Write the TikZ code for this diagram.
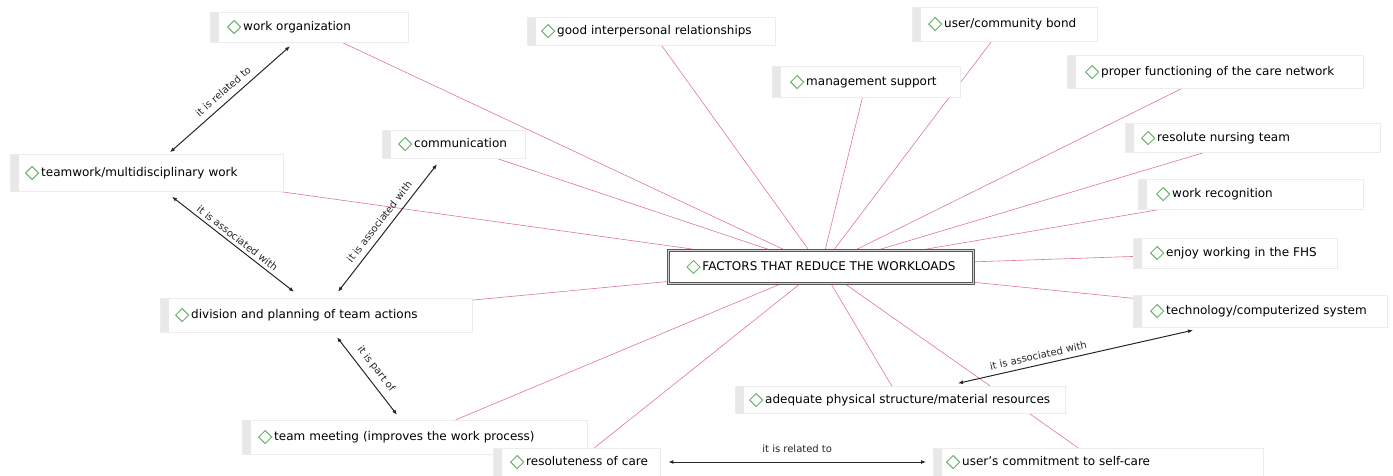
\documentclass[tikz,border=0pt]{standalone}
\usepackage{fontspec}
\setmainfont{DejaVu Sans}
\usetikzlibrary{arrows.meta,backgrounds}

\definecolor{diagreen}{RGB}{105,178,105}
\definecolor{linkred}{RGB}{224,120,138}
\newcommand{\dia}{\tikz[baseline=-3.8pt]\draw[diagreen,line width=1pt] (0pt,6.5pt)--(6.5pt,0pt)--(0pt,-6.5pt)--(-6.5pt,0pt)--cycle;}

\begin{document}
\begin{tikzpicture}[x=1pt,y=-1pt,
    topic/.style={draw=gray!15, fill=white, anchor=west, inner xsep=0pt, inner ysep=0pt,
      align=left, minimum height=30pt, font=\fontsize{12}{14}\selectfont,
      path picture={\fill[gray!18] (path picture bounding box.north west) rectangle
        ([xshift=9pt]path picture bounding box.south west);}},
    factorlink/.style={linkred, line width=0.6pt},
    relation/.style={{Latex[length=5pt,width=4pt]}-{Latex[length=5pt,width=4pt]}, line width=1pt, black!85},
    rellabel/.style={font=\fontsize{10}{11}\selectfont, sloped, above, inner sep=5pt}]
  \useasboundingbox (0,0) rectangle (1393,475);

  % left side
  \node[topic, text width=198pt] (workorg) at (210,27) {\hspace*{17pt}\dia\,work organization};
  \node[topic, text width=273pt, minimum height=37pt] (teamwork) at (10,173) {\hspace*{15pt}\dia\,teamwork/multidisciplinary work};
  \node[topic, text width=143pt, minimum height=28pt] (communication) at (382,144) {\hspace*{16pt}\dia\,communication};
  \node[topic, text width=312pt, minimum height=34pt] (division) at (160,315) {\hspace*{15pt}\dia\,division and planning of team actions};
  \node[topic, text width=345pt, minimum height=34pt] (meeting) at (242,437) {\hspace*{16pt}\dia\,team meeting (improves the work process)};
  % top and right side
  \node[topic, text width=248pt, minimum height=28pt] (interpersonal) at (527,31) {\hspace*{14pt}\dia\,good interpersonal relationships};
  \node[topic, text width=188pt, minimum height=31pt] (management) at (772,82) {\hspace*{18pt}\dia\,management support};
  \node[topic, text width=185pt, minimum height=34pt] (community) at (912,24) {\hspace*{16pt}\dia\,user/community bond};
  \node[topic, text width=296pt, minimum height=33pt] (network) at (1067,72) {\hspace*{18pt}\dia\,proper functioning of the care network};
  \node[topic, text width=255pt, minimum height=29pt] (nursing) at (1125,138) {\hspace*{16pt}\dia\,resolute nursing team};
  \node[topic, text width=225pt, minimum height=30pt] (recognition) at (1138,194) {\hspace*{18pt}\dia\,work recognition};
  \node[topic, text width=204pt, minimum height=30pt] (enjoy) at (1133,253) {\hspace*{17pt}\dia\,enjoy working in the FHS};
  \node[topic, text width=254pt, minimum height=32pt] (technology) at (1133,311) {\hspace*{17pt}\dia\,technology/computerized system};
  % bottom
  \node[topic, text width=330pt, minimum height=27pt] (physical) at (735,400) {\hspace*{14pt}\dia\,adequate physical structure/material resources};
  \node[topic, text width=167pt, minimum height=28pt] (resolute) at (493,462) {\hspace*{17pt}\dia\,resoluteness of care};
  \node[topic, text width=330pt, minimum height=28pt] (commitment) at (933,462) {\hspace*{13pt}\dia\,user's commitment to self-care};

  % central theme
  \node[draw=gray!70!black, line width=0.7pt, double=gray!35, double distance=1.2pt, fill=white,
    minimum width=305pt, minimum height=33pt, font=\fontsize{12}{14}\selectfont]
    (factors) at (821,267) {\dia\,FACTORS THAT REDUCE THE WORKLOADS};

  \begin{pgfonlayer}{background}
    \foreach \n in {workorg,interpersonal,management,community,network,nursing,recognition,
        enjoy,technology,communication,teamwork,division,meeting,resolute,physical,commitment}
      \draw[factorlink] (\n) -- (factors);
  \end{pgfonlayer}

  % relations between factors
  \draw[relation] ([xshift=80pt,yshift=-4pt]workorg.south west) --
    node[rellabel, inner sep=6pt] {it is related to} ([xshift=160pt,yshift=2pt]teamwork.north west);
  \draw[relation] ([xshift=162pt,yshift=-5pt]teamwork.south west) --
    node[rellabel, inner sep=3pt] {it is associated with} ([xshift=134pt,yshift=6pt]division.north west);
  \draw[relation] ([xshift=178pt,yshift=6pt]division.north west) --
    node[rellabel, inner sep=6pt] {it is associated with} ([xshift=55pt,yshift=-6pt]communication.south west);
  \draw[relation] ([xshift=177pt,yshift=-5pt]division.south west) --
    node[rellabel, inner sep=6pt] {it is part of} ([xshift=155pt,yshift=5pt]meeting.north west);
  \draw[relation] ([xshift=8pt]resolute.east) --
    node[rellabel, inner sep=9pt] {it is related to} ([xshift=-7pt]commitment.west);
  \draw[relation] ([xshift=223pt,yshift=3pt]physical.north west) --
    node[rellabel, pos=0.35] {it is associated with} ([xshift=60pt,yshift=-3pt]technology.south west);
\end{tikzpicture}
\end{document}
